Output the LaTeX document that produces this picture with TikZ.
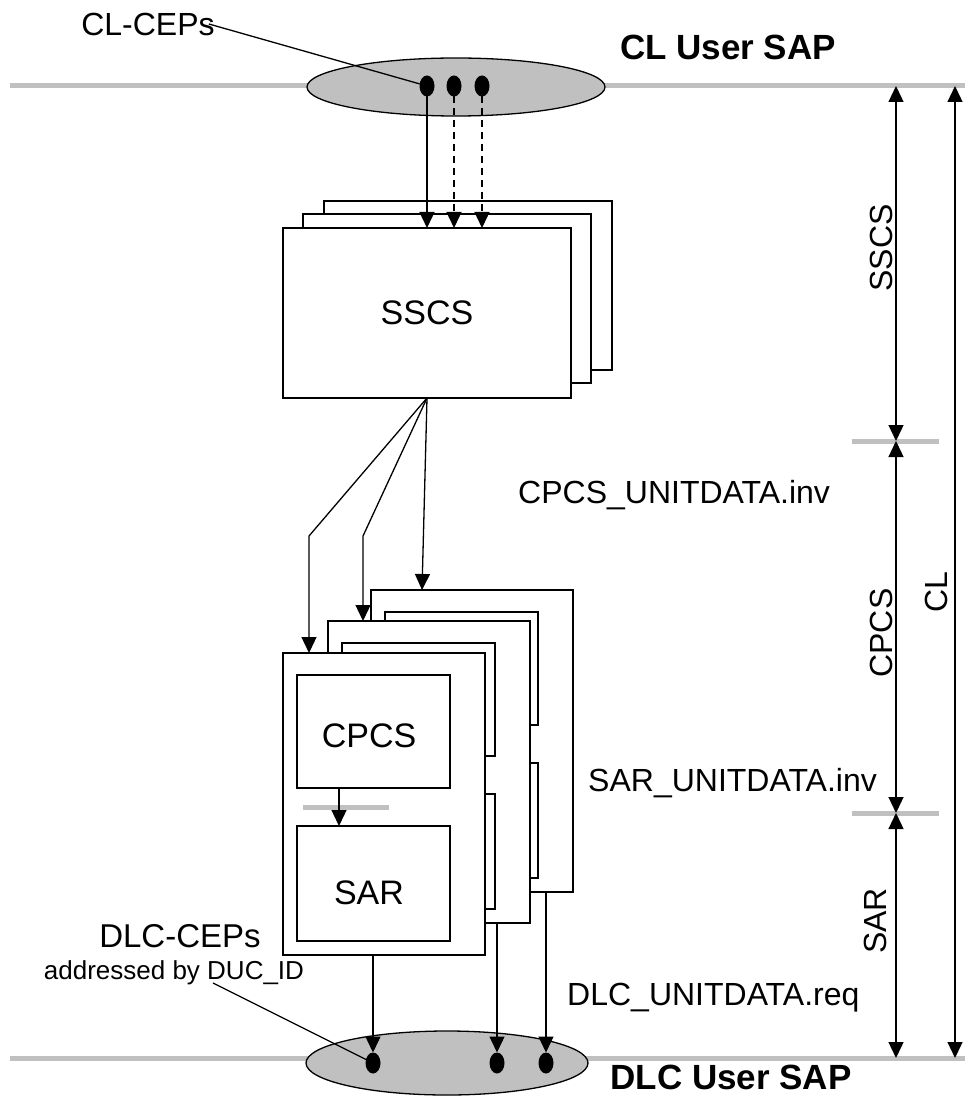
\documentclass[tikz,border=0pt]{standalone}
\usepackage{fontspec}
\setmainfont{Liberation Sans}
\usetikzlibrary{arrows.meta,shapes.geometric}
\definecolor{sapgray}{HTML}{C0C0C0}
\begin{document}
\begin{tikzpicture}[x=1pt,y=-1pt,
  box/.style={draw, line width=1.3pt, fill=white, inner sep=0pt, outer sep=0pt},
  lbl/.style={font=\fontsize{32}{38}\selectfont, inner sep=0pt},
  small/.style={font=\fontsize{26}{30}\selectfont, inner sep=0pt},
  sap/.style={font=\bfseries\fontsize{35}{40}\selectfont, inner sep=0pt},
  grayline/.style={draw=sapgray, line width=5pt},
  sapell/.style={ellipse, draw, line width=1.3pt, fill=sapgray, inner sep=0pt, outer sep=0pt},
  dot/.style={ellipse, fill=black, minimum width=15, minimum height=21, inner sep=0pt, outer sep=0pt},
  arr/.style={line width=1.3pt, -{Triangle[width=15pt,length=16pt]}},
  dimarr/.style={line width=1.3pt, {Triangle[width=15pt,length=16pt]}-{Triangle[width=15pt,length=16pt]}},
  conn/.style={line width=1.3pt},
  dashedarr/.style={arr, dash pattern=on 7pt off 5pt}]
\useasboundingbox (0,0) rectangle (965,1099);

% SAP lines
\draw[grayline] (10,86) -- (965,86);
\draw[grayline] (10,1058) -- (965,1058);
\draw[grayline] (852,441) -- (939,441);
\draw[grayline] (852,813) -- (939,813);

% top SAP
\node[sapell, minimum width=298, minimum height=58] (topsap) at (456,87) {};
\node[dot] (d1) at (427,86) {};
\node[dot] (d2) at (454,86) {};
\node[dot] (d3) at (482,86) {};
\node[sap] (clsap) at (728,47) {CL User SAP};
\node[lbl] (clceps) at (148,24) {CL-CEPs};
\draw[conn] ([xshift=-6pt]clceps.east) -- (d1);

% SSCS stack
\node[box, minimum width=288, minimum height=169] (sscs3) at (468,285.5) {};
\node[box, minimum width=288, minimum height=169] (sscs2) at (447,298.5) {};
\node[box, minimum width=288, minimum height=170, font=\fontsize{34}{40}\selectfont] (sscs1) at (427,313) {SSCS};

\draw[arr] (d1) -- (d1 |- sscs1.north);
\draw[dashedarr] (d2) -- (d2 |- sscs1.north);
\draw[dashedarr] (d3) -- (d3 |- sscs1.north);

% CPCS/SAR cards
\foreach \i/\dx/\dy in {3/88/-63,2/45/-32,1/0/0}{
  \node[box, minimum width=202, minimum height=302] (card\i) at (384+\dx,804+\dy) {};
  \node[box, minimum width=153, minimum height=113] (cpcs\i) at (373.5+\dx,731.5+\dy) {};
  \node[box, minimum width=153, minimum height=115] (sar\i) at (373.5+\dx,883.5+\dy) {};
}
\draw[grayline] (303,807) -- (389,807);
\coordinate (ca) at (339,0);
\draw[arr] (ca |- cpcs1.south) -- (ca |- sar1.north);
\node[font=\fontsize{34}{40}\selectfont, inner sep=0pt] (cpcst) at (369,736) {CPCS};
\node[font=\fontsize{34}{40}\selectfont, inner sep=0pt] (sart) at (369,893) {SAR};

% SSCS -> cards
\coordinate (k1) at (309,536);
\coordinate (k2) at (363,536);
\coordinate (k3) at (422,0);
\draw[arr] (sscs1.south) -- (k1) -- (k1 |- card1.north);
\draw[arr] (sscs1.south) -- (k2) -- (k2 |- card2.north);
\draw[arr] (sscs1.south) -- (k3 |- card3.north);

% bottom SAP
\node[sapell, minimum width=282, minimum height=64] (botsap) at (447,1063) {};
\node[dot] (e1) at (373,1063) {};
\node[dot] (e2) at (497,1063) {};
\node[dot] (e3) at (546,1063) {};
\draw[arr] (e1 |- card1.south) -- (e1.north);
\draw[arr] (e2 |- card2.south) -- (e2.north);
\draw[arr] (e3 |- card3.south) -- (e3.north);
\node[sap] (dlcsap) at (731,1077) {DLC User SAP};
\node[lbl, font=\fontsize{33}{38}\selectfont] (dlceps) at (180,936) {DLC-CEPs};
\node[small] (duc) at (174,973) {addressed by DUC\_ID};
\coordinate (du) at (213,983);
\draw[conn] (du) -- (e1);

% primitive labels
\node[lbl, anchor=west] (cpcsud) at (518,495) {CPCS\_UNITDATA.inv};
\node[lbl, anchor=west] (sarud) at (588,783) {SAR\_UNITDATA.inv};
\node[lbl, anchor=west] (dlcud) at (567,998) {DLC\_UNITDATA.req};

% dimension arrows
\coordinate (t1) at (896,86);
\coordinate (t2) at (896,441);
\coordinate (t3) at (896,813);
\coordinate (t4) at (896,1058);
\coordinate (c1) at (955,86);
\coordinate (c2) at (955,1058);
\draw[dimarr] (t1) -- (t2);
\draw[dimarr] (t2) -- (t3);
\draw[dimarr] (t3) -- (t4);
\draw[dimarr] (c1) -- (c2);
\node[lbl, rotate=90] (sscsd) at (881,248) {SSCS};
\node[lbl, rotate=90] (cpcsd) at (881,633) {CPCS};
\node[lbl, rotate=90] (sard) at (875,921) {SAR};
\node[lbl, rotate=90] (cld) at (936,592) {CL};
\end{tikzpicture}
\end{document}
